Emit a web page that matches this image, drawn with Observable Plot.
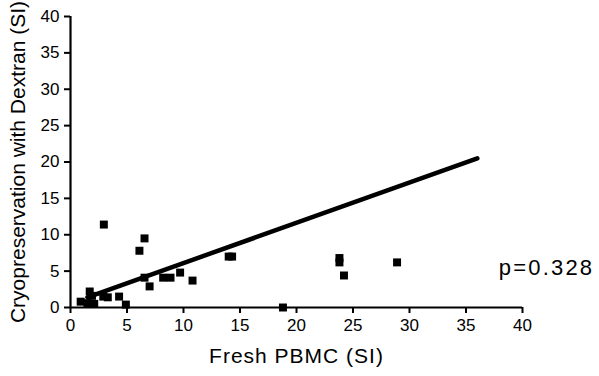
<!DOCTYPE html>
<html>
<head>
<meta charset="utf-8">
<script src="https://cdn.jsdelivr.net/npm/d3@7"></script>
<script src="https://cdn.jsdelivr.net/npm/@observablehq/plot@0.6"></script>
<style>
  html, body { margin: 0; padding: 0; background: #fff; }
  #chart svg { display: block; }
</style>
</head>
<body>
<div id="chart"></div>
<script>
// Data
const freshPBMC = [0.9, 1.5, 1.7, 1.9, 2.1, 2.9, 3.3, 4.3, 4.9, 2.95, 6.1, 6.55, 6.55, 7.0, 8.2, 8.85, 9.7, 10.8, 14.0, 14.3, 18.8, 23.8, 23.8, 24.2, 28.9];
const cryoDextran = [0.8, 0.6, 2.2, 1.6, 0.5, 1.5, 1.4, 1.5, 0.4, 11.4, 7.8, 9.5, 4.1, 2.9, 4.1, 4.1, 4.8, 3.7, 7.0, 7.0, 0.0, 6.8, 6.2, 4.4, 6.2];
const fitX = [1.5, 36];
const fitY = [1.4, 20.5];
const xTicks = [0, 5, 10, 15, 20, 25, 30, 35, 40];
const yTicks = [0, 5, 10, 15, 20, 25, 30, 35, 40];
const pLabel = ["p=0.328"];
const xLabel = ["Fresh PBMC (SI)"];
const yLabel = ["Cryopreservation with Dextran (SI)"];

const points = freshPBMC.map((x, i) => ({x, y: cryoDextran[i]}));
const fit = fitX.map((x, i) => ({x, y: fitY[i]}));

const font = "'Liberation Sans', Arial, Helvetica, sans-serif";

const chart = Plot.plot({
  width: 599,
  height: 376,
  marginLeft: 70,
  marginRight: 77,
  marginTop: 16,
  marginBottom: 69,
  style: {fontFamily: font, color: "#000", background: "#fff", overflow: "visible"},
  x: {domain: [0, 40]},
  y: {domain: [0, 40]},
  marks: [
    Plot.axisX({ticks: xTicks, tickSize: 6, tickPadding: 5, fontSize: 17, strokeWidth: 2, label: null, tickFormat: d => String(d)}),
    Plot.axisY({ticks: yTicks, tickSize: 6, tickPadding: 5, fontSize: 17, strokeWidth: 2, label: null, tickFormat: d => String(d)}),
    Plot.ruleY([0], {strokeWidth: 2.2}),
    Plot.ruleX([0], {strokeWidth: 2.2}),
    Plot.line(fit, {x: "x", y: "y", strokeWidth: 4.5, stroke: "#000"}),
    Plot.dot(points, {x: "x", y: "y", symbol: "square", r: 4.5, fill: "#000", stroke: "none"}),
    Plot.text(pLabel, {x: 37.9, y: 5.4, text: d => d, textAnchor: "start", fontSize: 22, fill: "#000", className: "ptext"}),
    Plot.text(xLabel, {frameAnchor: "bottom", dy: 55, text: d => d, fontSize: 21, fill: "#000", className: "xlab"}),
    Plot.text(yLabel, {frameAnchor: "left", textAnchor: "middle", rotate: -90, dx: -52, dy: 0, text: d => d, fontSize: 21, fill: "#000", className: "ylab"})
  ]
});
d3.select(chart).selectAll(".ptext text").attr("letter-spacing", "2.2px");
d3.select(chart).selectAll(".xlab text").attr("letter-spacing", "1px");
document.getElementById("chart").appendChild(chart);
</script>
</body>
</html>
